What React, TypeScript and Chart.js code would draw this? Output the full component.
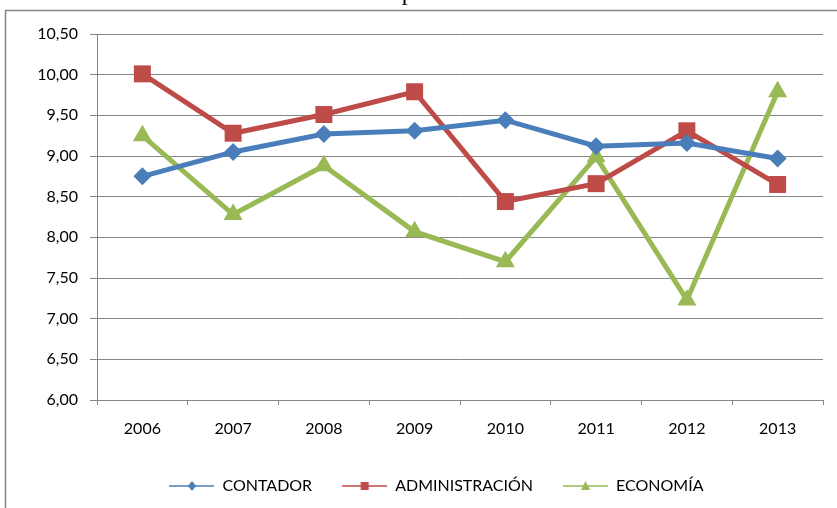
import React, { useEffect, useRef } from 'react';
import { Chart, registerables } from 'chart.js';

Chart.register(...registerables);

const YEARS = ['2006', '2007', '2008', '2009', '2010', '2011', '2012', '2013'];
const CONTADOR = [8.75, 9.05, 9.27, 9.31, 9.44, 9.12, 9.16, 8.97];
const ADMINISTRACION = [10.01, 9.28, 9.51, 9.79, 8.44, 8.66, 9.31, 8.65];
const ECONOMIA = [9.25, 8.28, 8.88, 8.07, 7.70, 8.99, 7.23, 9.79];
const SERIES_NAMES = ['CONTADOR', 'ADMINISTRACIÓN', 'ECONOMÍA'];
const Y_MIN = 6;
const Y_MAX = 10.5;
const Y_STEP = 0.5;
const TITLE = 'Gráfico N° 4: Evolución del promedio de las carreras FCCEE 2006-2013';

const BLUE = '#4A7EBB';
const RED = '#BE4B48';
const GREEN = '#98B954';
const GRID = '#868686';
const FONT = 'Lato, "Open Sans", sans-serif';

function legendIcon(color: string, shape: 'diamond' | 'square' | 'triangle') {
  const c = document.createElement('canvas');
  c.width = 45;
  c.height = 14;
  const ctx = c.getContext('2d')!;
  ctx.strokeStyle = color;
  ctx.lineWidth = 1.5;
  ctx.beginPath();
  ctx.moveTo(0, 7);
  ctx.lineTo(45, 7);
  ctx.stroke();
  ctx.fillStyle = color;
  ctx.beginPath();
  if (shape === 'diamond') {
    ctx.moveTo(22.5, 2);
    ctx.lineTo(26.5, 7);
    ctx.lineTo(22.5, 12);
    ctx.lineTo(18.5, 7);
  } else if (shape === 'square') {
    ctx.rect(18.5, 3, 8, 8);
  } else {
    ctx.moveTo(22.5, 2);
    ctx.lineTo(27, 11);
    ctx.lineTo(18, 11);
  }
  ctx.closePath();
  ctx.fill();
  return c;
}

const framePlugin = {
  id: 'frame',
  afterLayout(chart: any) {
    const lg = chart.legend;
    if (lg) {
      lg.left += 25;
      lg.right += 25;
    }
  },
  beforeDraw(chart: any) {
    const ctx = chart.ctx;
    ctx.save();
    ctx.fillStyle = '#ffffff';
    ctx.fillRect(0, 0, chart.width, chart.height);
    ctx.strokeStyle = GRID;
    ctx.lineWidth = 1.5;
    ctx.strokeRect(5.5, 10.5, 1000, 1000);
    ctx.fillStyle = '#000000';
    ctx.font = '24px "Liberation Serif", serif';
    ctx.textAlign = 'left';
    ctx.textBaseline = 'alphabetic';
    ctx.fillText(TITLE, 125, 0);
    ctx.restore();
  },
};

export default function App() {
  const ref = useRef<HTMLCanvasElement | null>(null);

  useEffect(() => {
    document.body.style.margin = '0';
    const canvas = ref.current!;
    const icons = [
      legendIcon(BLUE, 'diamond'),
      legendIcon(RED, 'square'),
      legendIcon(GREEN, 'triangle'),
    ];
    const chart = new Chart(canvas, {
      type: 'line',
      data: {
        labels: YEARS,
        datasets: [
          {
            label: SERIES_NAMES[0],
            data: CONTADOR,
            borderColor: BLUE,
            backgroundColor: BLUE,
            borderWidth: 5,
            pointStyle: 'rectRot',
            pointRadius: 9,
            pointHoverRadius: 9,
            pointBorderWidth: 0,
          },
          {
            label: SERIES_NAMES[1],
            data: ADMINISTRACION,
            borderColor: RED,
            backgroundColor: RED,
            borderWidth: 5,
            pointStyle: 'rect',
            pointRadius: 12,
            pointHoverRadius: 12,
            pointBorderWidth: 0,
          },
          {
            label: SERIES_NAMES[2],
            data: ECONOMIA,
            borderColor: GREEN,
            backgroundColor: GREEN,
            borderWidth: 5,
            pointStyle: 'triangle',
            pointRadius: 11,
            pointHoverRadius: 11,
            pointBorderWidth: 0,
          },
        ],
      },
      options: {
        responsive: false,
        animation: false,
        events: [],
        layout: { padding: { top: 34, right: 14, bottom: 4, left: 0 } },
        plugins: {
          tooltip: { enabled: false },
          legend: {
            position: 'bottom',
            labels: {
              usePointStyle: true,
              pointStyleWidth: 45,
              padding: 30,
              color: '#000000',
              font: { family: FONT, size: 16 },
              generateLabels: (ch: any) =>
                ch.data.datasets.map((ds: any, i: number) => ({
                  text: ds.label,
                  pointStyle: icons[i],
                  fillStyle: ds.borderColor,
                  strokeStyle: ds.borderColor,
                  lineWidth: 0,
                  hidden: false,
                  datasetIndex: i,
                  fontColor: '#000000',
                })),
            },
          },
        },
        scales: {
          x: {
            offset: true,
            grid: {
              offset: true,
              drawOnChartArea: false,
              drawTicks: true,
              tickLength: 5,
              color: GRID,
            },
            border: { color: GRID, width: 1 },
            ticks: {
              color: '#000000',
              font: { family: FONT, size: 16 },
              padding: 14,
              maxRotation: 0,
            },
            afterFit: (s: any) => {
              s.height = 48;
            },
          },
          y: {
            min: Y_MIN,
            max: Y_MAX,
            grid: { color: GRID, lineWidth: 1, tickLength: 7 },
            border: { color: GRID, width: 1 },
            ticks: {
              stepSize: Y_STEP,
              color: '#000000',
              font: { family: FONT, size: 16 },
              padding: 12,
              callback: (v: any) => Number(v).toFixed(2).replace('.', ','),
            },
            afterFit: (s: any) => {
              s.width = 97;
            },
          },
        },
      },
      plugins: [framePlugin],
    });
    return () => chart.destroy();
  }, []);

  return <canvas ref={ref} width={837} height={508} style={{ display: 'block' }} />;
}
